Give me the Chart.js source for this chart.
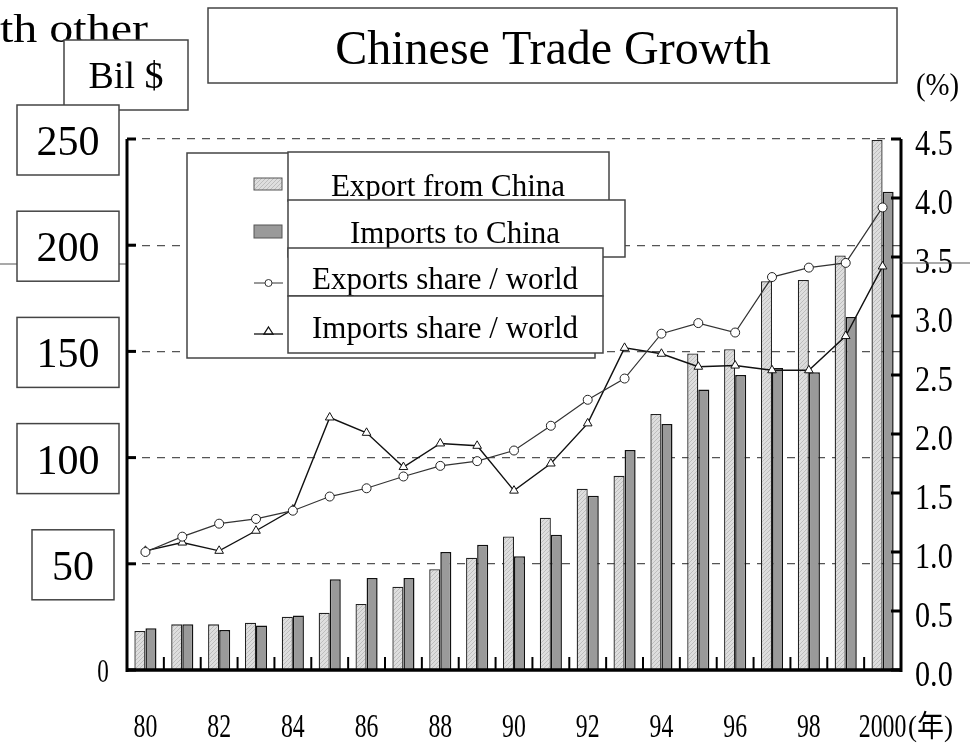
<!DOCTYPE html>
<html>
<head>
<meta charset="utf-8">
<title>Chinese Trade Growth</title>
<script src="https://cdn.jsdelivr.net/npm/chart.js@4.4.1/dist/chart.umd.min.js"></script>
<style>
  html, body { margin: 0; padding: 0; background: #fff; }
  #wrap { width: 970px; height: 743px; }
</style>
</head>
<body>
<div id="wrap"><canvas id="trade" width="970" height="743"></canvas></div>
<script>
// years on the x axis, only every other one is labelled
const years = ['80','81','82','83','84','85','86','87','88','89','90','91','92','93','94','95','96','97','98','99','2000'];
const yearTickLabels = ['80','82','84','86','88','90','92','94','96','98','2000'];

// trade in billions of dollars (left axis)
const exportBil = [18.4, 21.5, 21.5, 22.3, 25.1, 27.0, 31.1, 39.2, 47.4, 52.9, 62.9, 71.7, 85.3, 91.4, 120.5, 149.0, 151.0, 183.0, 183.6, 195.2, 249.5];
const importBil = [19.6, 21.5, 18.8, 21.0, 25.7, 42.7, 43.3, 43.3, 55.6, 59.0, 53.5, 63.7, 82.0, 103.6, 115.8, 132.1, 138.9, 142.2, 140.2, 166.2, 225.2];

// share of world trade in % (right axis)
const exportShare = [1.00, 1.13, 1.24, 1.28, 1.35, 1.47, 1.54, 1.64, 1.73, 1.77, 1.86, 2.07, 2.29, 2.47, 2.85, 2.94, 2.86, 3.33, 3.41, 3.45, 3.92];
const importShare = [1.01, 1.08, 1.01, 1.18, 1.36, 2.14, 2.01, 1.72, 1.92, 1.90, 1.52, 1.75, 2.09, 2.73, 2.68, 2.57, 2.58, 2.54, 2.54, 2.83, 3.42];

const leftTickLabels = ['0', '50', '100', '150', '200', '250'];
const rightTickLabels = ['0.0','0.5','1.0','1.5','2.0','2.5','3.0','3.5','4.0','4.5'];

const SERIF = '"Liberation Serif", "Times New Roman", serif';
const LINE = '#444';

// light grey fill with fine diagonal hatching for the export bars
function hatchPattern(){
  const c = document.createElement('canvas');
  c.width = 4; c.height = 4;
  const g = c.getContext('2d');
  g.fillStyle = '#dedede';
  g.fillRect(0, 0, 4, 4);
  g.strokeStyle = '#bdbdbd';
  g.lineWidth = 1;
  g.beginPath();
  g.moveTo(0, 4); g.lineTo(4, 0);
  g.stroke();
  return g.createPattern(c, 'repeat');
}
const hatch = hatchPattern();

function box(ctx, x1, y1, x2, y2){
  ctx.fillStyle = '#fff';
  ctx.fillRect(x1, y1, x2 - x1, y2 - y1);
  ctx.strokeStyle = LINE;
  ctx.lineWidth = 1.5;
  ctx.strokeRect(x1, y1, x2 - x1, y2 - y1);
}

// horizontally scaled text (narrow axis numbers, wide caption)
function squeeze(ctx, text, x, y, sx, align){
  ctx.save();
  ctx.translate(x, y);
  ctx.scale(sx, 1);
  ctx.textAlign = align;
  ctx.fillText(text, 0, 0);
  ctx.restore();
}

function seg(ctx, x1, y1, x2, y2, w, color){
  ctx.strokeStyle = color;
  ctx.lineWidth = w;
  ctx.beginPath();
  ctx.moveTo(x1, y1); ctx.lineTo(x2, y2);
  ctx.stroke();
}

const frame = {
  id: 'frame',
  afterDraw(chart){
    const {ctx, chartArea: a, scales: {x, y, y1}} = chart;
    const ds = chart.data.datasets;
    ctx.save();
    ctx.textBaseline = 'alphabetic';
    ctx.fillStyle = '#000';

    // leftover caption text behind the unit box
    ctx.font = '40px ' + SERIF;
    squeeze(ctx, 'with other', 148, 42, 1.2, 'right');

    // stray rule running across the left and right margins
    seg(ctx, 0, 264, a.left, 264, 1.2, '#555');

    // unit box
    box(ctx, 64, 40, 188, 110);
    ctx.fillStyle = '#000';
    ctx.font = '38px ' + SERIF;
    ctx.textAlign = 'center';
    ctx.fillText('Bil $', 126, 88);

    // left axis numbers, each in its own box
    y.ticks.forEach((t, i) => {
      const py = y.getPixelForValue(t.value);
      const label = leftTickLabels[i];
      if (t.value === 0){
        ctx.fillStyle = '#000';
        ctx.font = '34px ' + SERIF;
        squeeze(ctx, label, 103, py + 12, 0.68, 'center');
        return;
      }
      const wide = label.length > 2;
      const x1 = wide ? 17 : 32, x2 = wide ? 119 : 114;
      box(ctx, x1, py - 34, x2, py + 36);
      ctx.fillStyle = '#000';
      ctx.font = '42px ' + SERIF;
      ctx.textAlign = 'center';
      ctx.fillText(label, (x1 + x2) / 2, py + 16);
    });

    // title
    box(ctx, 208, 8, 897, 83);
    ctx.fillStyle = '#000';
    ctx.font = '48px ' + SERIF;
    ctx.textAlign = 'center';
    ctx.fillText('Chinese Trade Growth', 553, 64);

    ctx.font = '32px ' + SERIF;
    squeeze(ctx, '(%)', 916, 95, 0.9, 'left');

    // legend: outer frame, then one overlapping box per series
    box(ctx, 187, 153, 595, 358);
    const rows = [
      {x2: 609, y1: 152, y2: 201, tx: 448, ty: 196},
      {x2: 625, y1: 200, y2: 257, tx: 455, ty: 243},
      {x2: 603, y1: 248, y2: 296, tx: 445, ty: 289},
      {x2: 603, y1: 296, y2: 353, tx: 445, ty: 338}
    ];
    rows.forEach((r, i) => {
      box(ctx, 288, r.y1, r.x2, r.y2);
      ctx.fillStyle = '#000';
      ctx.font = '31px ' + SERIF;
      ctx.textAlign = 'center';
      ctx.fillText(ds[i].label, r.tx, r.ty);
    });
    // legend keys
    ctx.fillStyle = hatch;
    ctx.fillRect(254, 178, 28, 12);
    ctx.strokeStyle = '#555'; ctx.lineWidth = 1;
    ctx.strokeRect(254, 178, 28, 12);
    ctx.fillStyle = '#9a9a9a';
    ctx.fillRect(254, 225, 28, 13);
    ctx.strokeRect(254, 225, 28, 13);
    seg(ctx, 254, 283, 283, 283, 1, '#333');
    ctx.fillStyle = '#fff';
    ctx.beginPath(); ctx.arc(268.5, 283, 3.5, 0, Math.PI * 2); ctx.fill(); ctx.stroke();
    seg(ctx, 254, 334, 283, 334, 1.3, '#111');
    ctx.beginPath();
    ctx.moveTo(268.5, 327); ctx.lineTo(273, 334); ctx.lineTo(264, 334); ctx.closePath();
    ctx.fill(); ctx.stroke();

    // axis frame
    seg(ctx, a.left, a.top, a.left, a.bottom + 2, 3, '#000');
    seg(ctx, a.right, a.top, a.right, a.bottom + 2, 3, '#000');
    seg(ctx, a.left - 1, a.bottom, a.right + 1, a.bottom, 3.5, '#000');

    // inward tick marks and axis numbers
    y.ticks.forEach(t => {
      const py = y.getPixelForValue(t.value);
      seg(ctx, a.left, py, a.left + 9, py, 3, '#000');
    });
    y1.ticks.forEach((t, i) => {
      const py = y1.getPixelForValue(t.value);
      seg(ctx, a.right - 10, py, a.right, py, 3, '#000');
      ctx.fillStyle = '#000';
      ctx.font = '36px ' + SERIF;
      squeeze(ctx, rightTickLabels[i], 915, py + 16, 0.84, 'left');
    });
    const half = (x.getPixelForTick(1) - x.getPixelForTick(0)) / 2;
    x.ticks.forEach((t, i) => {
      const px = x.getPixelForTick(i);
      if (i < x.ticks.length - 1) seg(ctx, px + half, a.bottom - 13, px + half, a.bottom, 2, '#000');
      const yr = years[t.value];
      if (yearTickLabels.includes(yr)){
        ctx.fillStyle = '#000';
        ctx.font = '34px ' + SERIF;
        squeeze(ctx, yr, px, 737, 0.7, 'center');
      }
    });
    ctx.fillStyle = '#000';
    ctx.font = '30px "Liberation Serif", "Noto Sans CJK JP", serif';
    squeeze(ctx, '(年)', 908, 736, 0.9, 'left');

    // stray rule on the right, drawn over the labels
    seg(ctx, a.right, 263, 970, 263, 1.2, '#555');
    ctx.restore();
  }
};

new Chart(document.getElementById('trade'), {
  type: 'bar',
  data: {
    labels: years,
    datasets: [
      {
        label: 'Export from China', data: exportBil, yAxisID: 'y',
        backgroundColor: hatch, borderColor: '#222', borderWidth: 1.3,
        categoryPercentage: 0.6, barPercentage: 1, order: 2
      },
      {
        label: 'Imports to China', data: importBil, yAxisID: 'y',
        backgroundColor: '#9a9a9a', borderColor: '#111', borderWidth: 1.5,
        categoryPercentage: 0.6, barPercentage: 1, order: 2
      },
      {
        type: 'line', label: 'Exports share / world', data: exportShare, yAxisID: 'y1',
        borderColor: '#333', borderWidth: 1.2, tension: 0,
        pointStyle: 'circle', pointRadius: 4.5, pointBackgroundColor: '#fff',
        pointBorderColor: '#222', pointBorderWidth: 1, order: 1
      },
      {
        type: 'line', label: 'Imports share / world', data: importShare, yAxisID: 'y1',
        borderColor: '#111', borderWidth: 1.4, tension: 0,
        pointStyle: 'triangle', pointRadius: 5, pointBackgroundColor: '#fff',
        pointBorderColor: '#111', pointBorderWidth: 1, order: 1
      }
    ]
  },
  options: {
    responsive: false,
    animation: false,
    layout: { padding: { left: 127, right: 69, top: 139, bottom: 73 } },
    plugins: { legend: { display: false }, tooltip: { enabled: false } },
    scales: {
      x: {
        grid: { display: false, drawTicks: false },
        border: { display: false },
        ticks: { display: false },
        afterFit: s => { s.height = 0; }
      },
      y: {
        min: 0, max: 250,
        ticks: { display: false, stepSize: 50 },
        grid: {
          drawTicks: false, lineWidth: 1.3,
          color: c => (c.tick && c.tick.value === 0) ? 'rgba(0,0,0,0)' : '#555'
        },
        border: { display: false, dash: [8, 7] },
        afterFit: s => { s.width = 0; }
      },
      y1: {
        position: 'right',
        min: 0, max: 4.5,
        ticks: { display: false, stepSize: 0.5 },
        grid: { display: false, drawTicks: false },
        border: { display: false },
        afterFit: s => { s.width = 0; }
      }
    }
  },
  plugins: [frame]
});
</script>
</body>
</html>
